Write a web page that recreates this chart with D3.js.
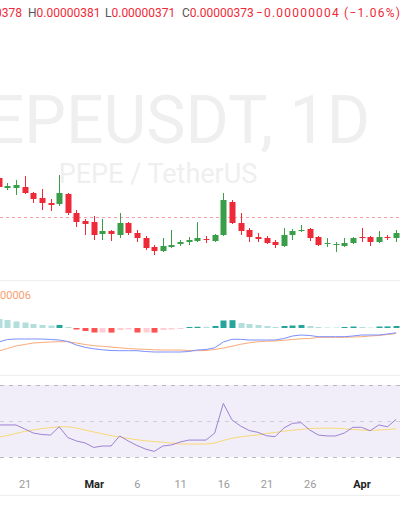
<!DOCTYPE html>
<meta charset="utf-8">
<style>
  body, html { margin:0; padding:0; background:#fff; }
  svg { display:block; }
  text { font-family: Roboto, "DejaVu Sans", sans-serif; white-space: pre; }
</style>
<body>
<svg width="400" height="520"></svg>
<script src="https://d3js.org/d3.v7.min.js"></script>
<script>

// daily candles, Feb 18 .. Apr 5, prices in units of 1e-8 USDT
var opens  = [412,402,402,403,397,392,387,386,396,377,369,368,356,359,355,367,357,352,343,339,343,346,348,349,351,349,355,388,367,360,353,352,348,344,355,359,361,353,346,345,344,347,353,353,348,353,352];
var highs  = [414,407,410,414,398,401,391,415,397,380,371,374,371,360,377,368,360,354,345,352,360,350,353,368,354,356,397,390,377,362,357,354,350,362,361,365,362,354,352,348,352,353,362,354,359,355,360];
var lows   = [401,400,395,396,387,380,379,384,375,363,355,350,350,349,352,355,348,340,335,338,342,344,345,348,347,348,354,366,355,348,348,346,342,343,350,358,349,344,343,338,343,346,348,344,347,350,348];
var closes = [403,404,405,397,391,387,385,397,377,368,366,355,359,356,367,357,352,342,339,344,345,348,350,352,350,355,390,367,359,353,351,347,345,355,359,360,352,345,347,346,347,352,352,348,353,352,357];

// MACD (12, 26, 9), same units scaled
var macdLine   = [-14,-11.5,-11,-11,-11,-11,-11.5,-12,-13.5,-17,-19.3,-20.8,-21.8,-22.5,-22.7,-22.7,-22.7,-23.5,-24,-24,-24,-24,-23.5,-22,-21.5,-19.8,-14,-11.3,-11.3,-12,-12,-12,-12,-10.5,-8,-7,-7.5,-8.7,-8.7,-8.7,-8.7,-8,-7,-7,-7,-6,-4.8];
var signalLine = [-23,-20.5,-18,-16.5,-15,-14.5,-14,-13.7,-13.7,-15,-16.5,-17.7,-18.3,-19,-19.8,-20.5,-21,-21.3,-21.8,-22,-22,-22,-22.5,-22.7,-22.5,-21.5,-20,-18.3,-16.3,-14.8,-13.8,-13.2,-13,-12.3,-11.5,-10.8,-10.5,-9.3,-9.3,-9.3,-9.3,-9,-8.7,-8,-7.5,-6.5,-5.5];
var histValues = [9,8,6.5,5.5,4,3,2.5,3,1,-1.5,-3,-4.5,-4.5,-4.6,-2,-1.5,-4.5,-4.5,-4.6,-2,-1.5,-1,1,1.2,1.2,2,7.5,7.8,5,4,3,2,1,2,2.5,3,2,1,0.5,0.5,1,1.5,1,0.5,1.5,1.6,2];

// RSI (14) and its moving average
var rsiValues = [47.8,47.8,47.8,45.6,43.3,42.5,42.2,46.8,40.8,38.9,37.8,35.3,36.1,36.1,41.7,38.9,36.4,34.4,33.1,36.1,36.7,38.3,39.4,39.4,39.4,43.3,59.8,50.6,47.2,44.7,43.7,41.8,41.3,46.1,48.7,49.1,45,42.2,41.7,41.7,43.3,46.5,46.5,44.6,47.8,46.8,50.9];
var rsiMa     = [41.1,41.9,43.1,44.2,45,45.8,46.3,46.8,46.8,46.1,45,43.9,42.9,41.9,41.1,40.3,39.6,39,38.6,38.2,37.7,37.2,37.2,37.2,37.2,37.8,39.2,40.4,41.2,41.8,42.2,43.1,43.6,44.4,44.9,45.3,45.8,46,46,46,45.7,45.3,45,44.7,45,45.3,45.7];

var tickDates  = [new Date(2025,1,21), new Date(2025,2,1), new Date(2025,2,6), new Date(2025,2,11), new Date(2025,2,16), new Date(2025,2,21), new Date(2025,2,26), new Date(2025,3,1)];
var tickLabels = ["21", "Mar", "6", "11", "16", "21", "26", "Apr"];

var lastPrice = 373;

var dates = d3.timeDay.range(new Date(2025,1,18), new Date(2025,3,6));

var green = "#3a9d48", red = "#ef2a38";

var svg = d3.select("svg");
svg.append("rect").attr("width", 400).attr("height", 520).attr("fill", "#fff");

var x = d3.scaleTime()
    .domain([dates[0], dates[dates.length - 1]])
    .range([-1.3, 396.1]);

var yPrice = d3.scaleLinear().domain([310, 570]).range([280, 20]);
var yMacd = d3.scaleLinear().domain([-25, 10]).range([353, 318]);
var yRsi = d3.scaleLinear().domain([30, 70]).range([457, 385]);

// header (OHLC legend), left part runs off the edge like the source
var header = svg.append("g").style("font-size", "12px");
[[22, "end", 0, [["O", "#555"], ["0.00000378", red]]],
 [28, "start", 0, [["H", "#555"], ["0.00000381", red]]],
 [105, "start", 0, [["L", "#555"], ["0.00000371", red]]],
 [182, "start", 0, [["C", "#555"], ["0.00000373", red]]],
 [256, "start", 1.2, [["\u22120.00000004 (\u22121.06%)", red]]]].forEach(function(h) {
    var t = header.append("text")
        .attr("x", h[0])
        .attr("y", 17)
        .attr("text-anchor", h[1])
        .style("letter-spacing", h[2] + "px");
    h[3].forEach(function(p) {
        t.append("tspan").attr("fill", p[1]).text(p[0]);
    });
});

// watermark
svg.append("text")
    .attr("x", 370)
    .attr("y", 143)
    .attr("text-anchor", "end")
    .attr("fill", "#efefef")
    .style("font-size", "66px")
    .text("PEPEUSDT, 1D");

svg.append("text")
    .attr("x", 158)
    .attr("y", 183)
    .attr("text-anchor", "middle")
    .attr("fill", "#efefef")
    .style("font-size", "27px")
    .text("PEPE / TetherUS");

// last price line
svg.append("line")
    .attr("x1", 0).attr("x2", 400)
    .attr("y1", yPrice(lastPrice) + 0.5).attr("y2", yPrice(lastPrice) + 0.5)
    .attr("stroke", red)
    .attr("stroke-opacity", 0.45)
    .attr("stroke-dasharray", "3,3");

// candles
var candles = svg.append("g").selectAll("g")
    .data(dates)
    .enter().append("g")
    .attr("fill", function(d, i) { return closes[i] >= opens[i] ? green : red; })
    .attr("stroke", function(d, i) { return closes[i] >= opens[i] ? green : red; });

candles.append("line")
    .attr("x1", function(d) { return Math.round(x(d)) + 0.5; })
    .attr("x2", function(d) { return Math.round(x(d)) + 0.5; })
    .attr("y1", function(d, i) { return yPrice(highs[i]); })
    .attr("y2", function(d, i) { return yPrice(lows[i]); })
    .attr("stroke-width", 1);

candles.append("rect")
    .attr("stroke", "none")
    .attr("x", function(d) { return Math.round(x(d)) - 2.5; })
    .attr("width", 6)
    .attr("y", function(d, i) { return yPrice(Math.max(opens[i], closes[i])); })
    .attr("height", function(d, i) { return Math.max(1, Math.abs(yPrice(opens[i]) - yPrice(closes[i]))); });

// pane separators
[280.5, 375.5].forEach(function(yy) {
    svg.append("line")
        .attr("x1", 0).attr("x2", 400).attr("y1", yy).attr("y2", yy)
        .attr("stroke", "#eceef2");
});

// MACD pane
svg.append("text")
    .attr("x", 31)
    .attr("y", 299)
    .attr("text-anchor", "end")
    .attr("fill", "#f7a072")
    .style("font-size", "11px")
    .text("\u22120.00000006");

svg.append("g").selectAll("rect")
    .data(dates)
    .enter().append("rect")
    .attr("x", function(d) { return Math.round(x(d)) - 2.5; })
    .attr("width", 6)
    .attr("y", function(d, i) { return yMacd(Math.max(0, histValues[i])); })
    .attr("height", function(d, i) { return Math.abs(yMacd(histValues[i]) - yMacd(0)); })
    .attr("fill", function(d, i) {
        var v = histValues[i], prev = i > 0 ? histValues[i - 1] : v;
        if (v >= 0) return v > prev ? "#26a69a" : "#b2dfdb";
        return v < prev ? "#ff5252" : "#ffcdd2";
    });

var macdPath = d3.line()
    .x(function(d) { return x(d[0]); })
    .y(function(d) { return yMacd(d[1]); });

svg.append("path")
    .datum(dates.map(function(d, i) { return [d, signalLine[i]]; }))
    .attr("fill", "none")
    .attr("stroke", "#fbaa78")
    .attr("d", macdPath);

svg.append("path")
    .datum(dates.map(function(d, i) { return [d, macdLine[i]]; }))
    .attr("fill", "none")
    .attr("stroke", "#7b8fff")
    .attr("d", macdPath);

// RSI pane
svg.append("rect")
    .attr("x", 0).attr("width", 400)
    .attr("y", yRsi(70)).attr("height", yRsi(30) - yRsi(70))
    .attr("fill", "#f2eef9");

[[70, "#b8b8be"], [50, "#cfcfd6"], [30, "#b8b8be"]].forEach(function(b) {
    svg.append("line")
        .attr("x1", 0).attr("x2", 400)
        .attr("y1", yRsi(b[0]) + 0.5).attr("y2", yRsi(b[0]) + 0.5)
        .attr("stroke", b[1])
        .attr("stroke-dasharray", "4,5");
});

var rsiPath = d3.line()
    .x(function(d) { return x(d[0]); })
    .y(function(d) { return yRsi(d[1]); });

svg.append("path")
    .datum(dates.map(function(d, i) { return [d, rsiMa[i]]; }))
    .attr("fill", "none")
    .attr("stroke", "#f8d977")
    .attr("d", rsiPath);

svg.append("path")
    .datum(dates.map(function(d, i) { return [d, rsiValues[i]]; }))
    .attr("fill", "none")
    .attr("stroke", "#9b82d3")
    .attr("d", rsiPath);

// time axis
var xAxis = d3.axisBottom(x)
    .tickValues(tickDates)
    .tickSize(0)
    .tickPadding(0)
    .tickFormat(function(d, i) { return tickLabels[i]; });

var ax = svg.append("g")
    .attr("transform", "translate(0,480)")
    .call(xAxis);
ax.select(".domain").remove();
ax.selectAll("text")
    .style("font-size", "11px")
    .attr("fill", function(d, i) { return i === 1 || i === 7 ? "#222" : "#9a9a9a"; })
    .style("font-weight", function(d, i) { return i === 1 || i === 7 ? "bold" : "normal"; });

svg.append("line")
    .attr("x1", 0).attr("x2", 400).attr("y1", 495.5).attr("y2", 495.5)
    .attr("stroke", "#eeeeee");

</script>
